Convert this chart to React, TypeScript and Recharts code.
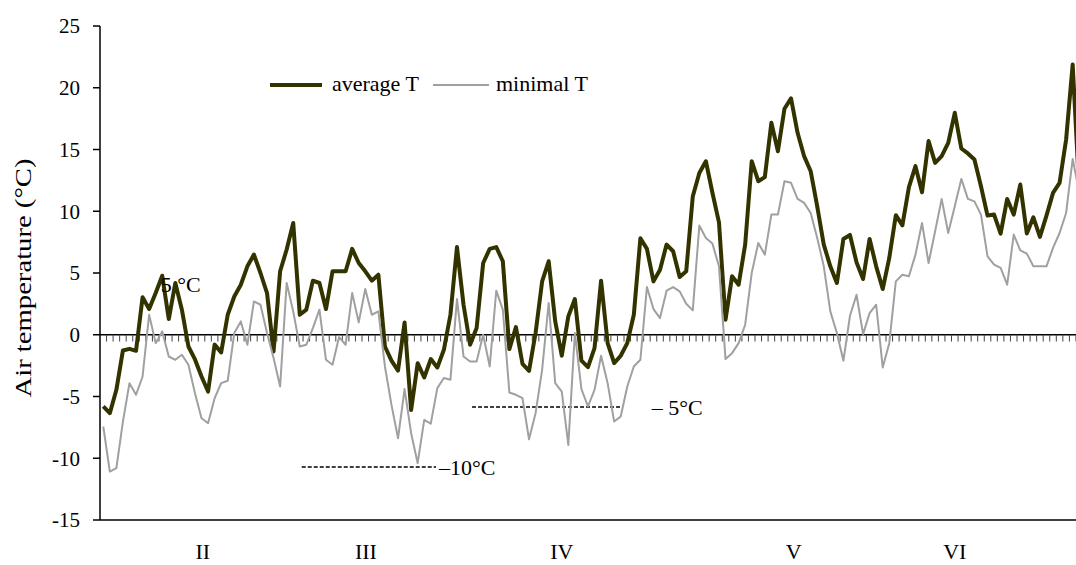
import {
  LineChart,
  Line,
  XAxis,
  YAxis,
  ReferenceLine,
  ReferenceDot,
  Legend,
} from "recharts";

const FONT = '"Liberation Serif", "Times New Roman", serif';

// daily average air temperature, Feb .. end of Jun (°C)
const avgT = [
  -5.8, -6.35, -4.46, -1.27, -1.14, -1.3, 3.03, 2.08, 3.38, 4.78,
  1.27, 4.19, 2.03, -0.95, -2.0, -3.38, -4.6, -0.8, -1.43, 1.62,
  3.1, 4.05, 5.54, 6.49, 5.0, 3.38, -1.35, 5.14, 6.9, 9.05,
  1.62, 2.03, 4.38, 4.19, 2.08, 5.14, 5.14, 5.14, 6.95, 5.81,
  5.14, 4.38, 4.86, -0.95, -2.1, -2.9, 1.0, -6.1, -2.3, -3.46,
  -1.97, -2.65, -1.22, 1.62, 7.1, 2.43, -0.81, 0.54, 5.81, 6.95,
  7.1, 5.95, -1.16, 0.62, -2.35, -2.92, 0.14, 4.32, 5.95, 1.08,
  -1.7, 1.49, 2.89, -2.1, -2.62, -1.08, 4.38, -0.68, -2.3, -1.7,
  -0.68, 1.62, 7.81, 6.95, 4.32, 5.27, 7.3, 6.76, 4.68, 5.14,
  11.2, 13.1, 14.05, 11.5, 9.1, 1.22, 4.73, 4.05, 7.3, 14.05,
  12.43, 12.76, 17.16, 14.86, 18.3, 19.14, 16.35, 14.46, 13.24, 10.4,
  7.3, 5.54, 4.19, 7.76, 8.08, 5.86, 4.51, 7.76, 5.54, 3.7,
  6.22, 9.68, 8.86, 11.95, 13.65, 11.54, 15.68, 13.92, 14.46, 15.54,
  17.97, 15.08, 14.68, 14.19, 12.03, 9.65, 9.73, 8.19, 11.0, 9.73,
  12.16, 8.19, 9.51, 7.92, 9.65, 11.49, 12.3, 15.81, 21.89, 11.6,
];

// daily minimal air temperature (°C)
const minT = [
  -7.43, -11.08, -10.8, -7.03, -3.92, -4.86, -3.38, 1.62, -0.68, 0.27,
  -1.76, -2.03, -1.62, -2.43, -4.73, -6.76, -7.16, -5.14, -3.92, -3.73,
  0.14, 1.08, -0.81, 2.7, 2.43, 0.14, -1.89, -4.19, 4.19, 1.89,
  -0.95, -0.81, 0.54, 2.03, -2.03, -2.43, -0.19, -0.81, 3.38, 1.0,
  3.7, 1.62, 1.89, -2.57, -5.68, -8.38, -4.4, -7.97, -10.4, -6.9,
  -7.2, -4.32, -3.5, -3.65, 2.89, -1.76, -2.16, -2.16, 0.0, -2.57,
  3.57, 2.03, -4.68, -4.86, -5.14, -8.46, -6.35, -2.84, 2.57, -3.92,
  -4.6, -8.92, 0.14, -4.4, -5.81, -4.46, -1.7, -3.92, -7.03, -6.62,
  -4.19, -2.57, -2.03, 3.86, 2.08, 1.35, 3.57, 3.86, 3.51, 2.51,
  1.97, 8.84, 7.84, 7.38, 5.54, -1.97, -1.49, -0.68, 0.81, 5.0,
  7.43, 6.49, 9.73, 9.73, 12.43, 12.3, 11.0, 10.68, 9.86, 7.84,
  5.54, 1.89, 0.14, -2.1, 1.54, 3.24, 0.05, 1.76, 2.43, -2.65,
  -0.68, 4.32, 4.86, 4.73, 6.49, 9.05, 5.81, 8.38, 11.0, 8.24,
  10.4, 12.62, 11.0, 10.8, 9.73, 6.35, 5.68, 5.41, 4.05, 8.11,
  6.84, 6.57, 5.54, 5.54, 5.54, 7.03, 8.24, 9.86, 14.24, 11.5,
];

const monthLabels = ["II", "III", "IV", "V", "VI"];
const monthTickPos = [15.2, 40.1, 70, 105.4, 130];
const yTicks = [-15, -10, -5, 0, 5, 10, 15, 20, 25];

// threshold marks drawn on the chart
const minus10Mark = { from: 30.3, to: 50.8, y: -10.7 };
const minus5Mark = { from: 56.3, to: 79.3, y: -5.85 };
const plus5Mark = { x: 8.77, y: 4.1 };

const chartData = avgT.map((avg, day) => ({ day, avg, min: minT[day] }));
const dayBoundaries = avgT.map((_, i) => i + 0.5);

const textStyle = { fontSize: 22, fill: "#000", fontFamily: FONT };

function YLabel(props: any) {
  const { viewBox } = props;
  const cx = viewBox.x + 23;
  const cy = viewBox.y + viewBox.height / 2 + 5;
  return (
    <text
      x={cx}
      y={cy}
      transform={`rotate(-90 ${cx} ${cy})`}
      textAnchor="middle"
      dominantBaseline="central"
      fontSize={23}
      fontFamily={FONT}
      fill="#000"
      textLength={239}
      lengthAdjust="spacingAndGlyphs"
    >
      Air temperature (°C)
    </text>
  );
}

function LegendContent({ payload }: any) {
  const items = payload || [];
  const slots = [
    { lx1: 5, lx2: 57, tx: 67 },
    { lx1: 168, lx2: 224, tx: 231 },
  ];
  return (
    <svg width={340} height={30}>
      {items.map((entry: any, i: number) => {
        const s = slots[i];
        if (!s) return null;
        return (
          <g key={entry.value}>
            <line
              x1={s.lx1}
              x2={s.lx2}
              y1={15}
              y2={15}
              stroke={entry.color}
              strokeWidth={entry.payload?.strokeWidth ?? 2}
            />
            <text x={s.tx} y={21} {...textStyle}>
              {entry.value}
            </text>
          </g>
        );
      })}
    </svg>
  );
}

export default function App() {
  return (
    <div
      style={{
        position: "absolute",
        left: 0,
        top: 0,
        width: 1076,
        height: 565,
        overflow: "hidden",
        background: "#fff",
      }}
    >
      <LineChart
        width={1090}
        height={565}
        data={chartData}
        margin={{ top: 26, right: 7.5, bottom: 0, left: 0 }}
      >
        <XAxis
          dataKey="day"
          type="number"
          domain={[-0.5, 149.5]}
          ticks={monthTickPos}
          interval={0}
          tickFormatter={(v) => monthLabels[monthTickPos.indexOf(v)]}
          tickLine={false}
          axisLine={{ stroke: "#000", strokeWidth: 1.5 }}
          height={45}
          tickMargin={17}
          tick={textStyle}
          allowDataOverflow
        />
        <YAxis
          type="number"
          domain={[-15, 25]}
          ticks={yTicks}
          interval={0}
          width={100}
          tickSize={7}
          tickMargin={13}
          axisLine={{ stroke: "#000", strokeWidth: 1.5 }}
          tickLine={{ stroke: "#000", strokeWidth: 1.5 }}
          tick={{ ...textStyle, fontSize: 21 }}
          label={(p: any) => <YLabel {...p} />}
          allowDataOverflow
        />
        <ReferenceLine y={0} stroke="#000" strokeWidth={1.5} />
        {dayBoundaries.map((b) => (
          <ReferenceLine
            key={b}
            segment={[
              { x: b, y: 0 },
              { x: b, y: -0.55 },
            ]}
            stroke="#444"
            strokeWidth={1}
          />
        ))}
        <ReferenceLine
          segment={[
            { x: minus10Mark.from, y: minus10Mark.y },
            { x: minus10Mark.to, y: minus10Mark.y },
          ]}
          stroke="#000"
          strokeWidth={1.5}
          strokeDasharray="4 2"
          label={{ value: "–10°C", position: "right", offset: 3, ...textStyle }}
        />
        <ReferenceLine
          segment={[
            { x: minus5Mark.from, y: minus5Mark.y },
            { x: minus5Mark.to, y: minus5Mark.y },
          ]}
          stroke="#000"
          strokeWidth={1.5}
          strokeDasharray="4 2"
          label={{ value: "– 5°C", position: "right", offset: 29, ...textStyle }}
        />
        <ReferenceDot
          x={plus5Mark.x}
          y={plus5Mark.y}
          r={0}
          fill="none"
          stroke="none"
          label={{ value: "5 °C", position: "right", offset: 0, ...textStyle }}
        />
        <Legend
          layout="horizontal"
          verticalAlign="middle"
          align="center"
          wrapperStyle={{ left: 265, top: 70, width: 340, height: 30 }}
          content={(p: any) => <LegendContent {...p} />}
        />
        <Line
          type="linear"
          dataKey="avg"
          name="average T"
          stroke="#333300"
          strokeWidth={4}
          strokeLinejoin="round"
          dot={false}
          activeDot={false}
          isAnimationActive={false}
        />
        <Line
          type="linear"
          dataKey="min"
          name="minimal T"
          stroke="#a0a0a0"
          strokeWidth={2}
          strokeLinejoin="round"
          dot={false}
          activeDot={false}
          isAnimationActive={false}
        />
      </LineChart>
    </div>
  );
}
